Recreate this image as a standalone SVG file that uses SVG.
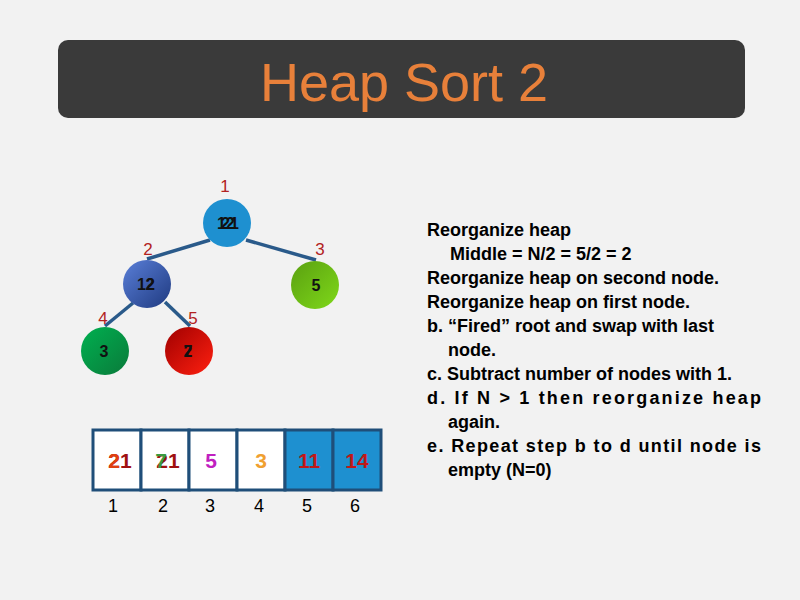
<svg xmlns="http://www.w3.org/2000/svg" width="800" height="600" viewBox="0 0 800 600">
<style>
.lbl{font-family:"Liberation Sans",sans-serif;font-size:17px;fill:#b22222;text-anchor:middle}
.nv{font-family:"Liberation Sans",sans-serif;font-size:16px;font-weight:bold;fill:#111;text-anchor:middle}
.cell{stroke:#1f4e79;stroke-width:3}
.cv{font-family:"Liberation Sans",sans-serif;font-size:21px;font-weight:bold;text-anchor:middle}
.idx{font-family:"Liberation Sans",sans-serif;font-size:18px;fill:#000;text-anchor:middle}
.txt{font-family:"Liberation Sans",sans-serif;font-size:18px;font-weight:bold;fill:#000}
</style>
<defs>
<linearGradient id="gb" x1="0" y1="0" x2="1" y2="1"><stop offset="0" stop-color="#5a7fd8"/><stop offset="1" stop-color="#1f3a80"/></linearGradient>
<linearGradient id="gg" x1="0" y1="0" x2="1" y2="1"><stop offset="0" stop-color="#00b050"/><stop offset="1" stop-color="#0a7a3a"/></linearGradient>
<linearGradient id="gl" x1="0" y1="0" x2="1" y2="1"><stop offset="0" stop-color="#5aa010"/><stop offset="1" stop-color="#7fd81a"/></linearGradient>
<linearGradient id="gr" x1="0" y1="0" x2="1" y2="1"><stop offset="0" stop-color="#a00000"/><stop offset="1" stop-color="#ff2010"/></linearGradient>
</defs>
<rect width="800" height="600" fill="#f2f2f2"/>
<rect x="58" y="40" width="687" height="78" rx="10" fill="#3a3a3a"/>
<text x="404" y="101" font-family="Liberation Sans,sans-serif" font-size="54" fill="#e8803a" text-anchor="middle">Heap Sort 2</text>
<g id="connectors" stroke="#2a5a8a" stroke-width="3.5">
<line x1="210" y1="240" x2="147" y2="259"/>
<line x1="246" y1="240" x2="316" y2="260"/>
<line x1="133" y1="303" x2="105" y2="326"/>
<line x1="165" y1="302" x2="190" y2="326"/>
</g>
<g id="n1"><text class="lbl" x="225" y="192">1</text><circle cx="227" cy="223" r="24" fill="#1e90d0"/><text class="nv" x="226" y="229">12</text><text class="nv" x="230" y="229">21</text></g>
<g id="n2"><text class="lbl" x="148" y="255">2</text><circle cx="147" cy="284" r="24" fill="url(#gb)"/><text class="nv" x="146" y="290">12</text><text class="nv" x="150" y="290">2</text></g>
<g id="n3"><text class="lbl" x="320" y="255">3</text><circle cx="315" cy="285" r="24" fill="url(#gl)"/><text class="nv" x="316" y="291">5</text></g>
<g id="n4"><text class="lbl" x="103" y="324">4</text><circle cx="105" cy="351" r="24" fill="url(#gg)"/><text class="nv" x="104" y="357">3</text></g>
<g id="n5"><text class="lbl" x="193" y="324">5</text><circle cx="189" cy="351" r="24" fill="url(#gr)"/><text class="nv" x="188" y="357">2</text><text class="nv" x="188" y="357">7</text></g>
<g id="array">
<rect class="cell" x="93" y="430" width="48" height="60" fill="#fff"/>
<rect class="cell" x="141" y="430" width="48" height="60" fill="#fff"/>
<rect class="cell" x="189" y="430" width="48" height="60" fill="#fff"/>
<rect class="cell" x="237" y="430" width="48" height="60" fill="#fff"/>
<rect class="cell" x="285" y="430" width="48" height="60" fill="#1e90d0"/>
<rect class="cell" x="333" y="430" width="48" height="60" fill="#1e90d0"/>
<text class="cv" x="120" y="468" fill="#a01010">21</text><text class="cv" x="114" y="468" fill="#e04010">2</text>
<text class="cv" x="168" y="468" fill="#a01010">21</text><text class="cv" x="161" y="468" fill="#3a9a40">7</text>
<text class="cv" x="211" y="468" fill="#c020c0">5</text>
<text class="cv" x="261" y="468" fill="#f0a030">3</text>
<text class="cv" x="309" y="468" fill="#c01818">11</text>
<text class="cv" x="357" y="468" fill="#c01818">14</text>
<text class="idx" x="113" y="512">1</text><text class="idx" x="163" y="512">2</text><text class="idx" x="210" y="512">3</text><text class="idx" x="259" y="512">4</text><text class="idx" x="307" y="512">5</text><text class="idx" x="355" y="512">6</text>
</g>
<g id="notes" class="txt">
<text x="427" y="236">Reorganize heap</text>
<text x="450" y="260">Middle = N/2 = 5/2 = 2</text>
<text x="427" y="284">Reorganize heap on second node.</text>
<text x="427" y="308">Reorganize heap on first node.</text>
<text x="427" y="332">b. “Fired” root and swap with last</text>
<text x="448" y="356">node.</text>
<text x="427" y="380">c. Subtract number of nodes with 1.</text>
<text x="427" y="404" textLength="334">d. If N &gt; 1 then reorganize heap</text>
<text x="448" y="428">again.</text>
<text x="427" y="452" textLength="334">e. Repeat step b to d until node is</text>
<text x="448" y="476">empty (N=0)</text>
</g>
</svg>
